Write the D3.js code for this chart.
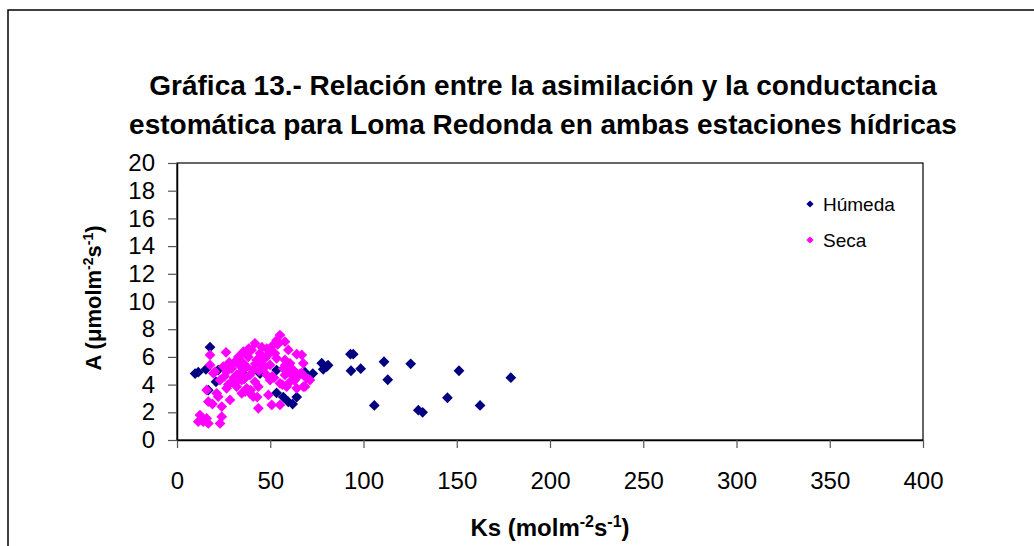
<!DOCTYPE html>
<html>
<head>
<meta charset="utf-8">
<script src="https://cdn.jsdelivr.net/npm/d3@7"></script>
<style>
body { margin:0; background:#fff; }
svg { font-family: "Liberation Sans", Arial, sans-serif; }
</style>
</head>
<body>
<svg id="chart"></svg>
<script>
// Humeda series (Ks, A)
var humedaKs = [9.7, 11.4, 15.5, 17.7, 16.8, 20.9, 22.1, 34.7, 44.5, 53.4, 53.4, 57.0, 59.7, 62.0, 64.2, 68.6, 72.8, 77.6, 80.3, 78.4, 81.0, 93.0, 94.5, 93.3, 98.5, 111, 113, 125.3, 105.8, 129.4, 131.7, 145, 151.2, 162.5, 179];
var humedaA  = [4.8, 4.9, 5.1, 6.7, 3.6, 4.2, 5.05, 4.9, 4.8, 5.05, 3.4, 3.1, 2.75, 2.6, 3.1, 4.9, 4.8, 5.55, 5.3, 5.1, 5.4, 6.2, 6.2, 5.0, 5.15, 5.65, 4.35, 5.5, 2.5, 2.15, 2.0, 3.05, 5.0, 2.5, 4.5];

// Seca series (Ks, A)
var secaKs = [55.2, 53.4, 57.9, 41.8, 51.6, 48.1, 26.3, 35.6, 40.0, 44.5, 49.9, 59.7, 64.2, 17.7, 32.9, 38.2, 42.7, 47.2, 53.4, 57.9,
              60.6, 67.7, 34.7, 49.9, 24.8, 29.3, 37.4, 40.9, 46.3, 57.0, 62.4, 19.5, 26.6, 32.0, 39.1, 48.1, 57.9, 65.0, 69.5, 23.1,
              29.3, 34.7, 41.8, 49.9, 55.2, 60.6, 67.7, 26.6, 32.0, 37.4, 43.6, 58.8, 64.2, 15.9, 22.1, 28.4, 34.7, 40.9, 49.0, 50.8,
              55.2, 43.6, 16.8, 24.0, 12.3, 24.0, 11.4, 14.1, 16.8, 15.9, 23.1, 17.7, 20.4, 31.1, 52.5, 66.9, 21.3, 39.1, 45.0, 66.9,
              66.0, 71.3, 68.6, 30.5, 36.0, 44.0, 52.0, 27.5, 33.5, 38.5, 46.0, 54.0, 43.0, 48.5, 56.5, 63.0, 19.0, 28.0, 36.5, 60.0,
              25.5, 31.0, 42.0, 47.0, 51.0, 35.0, 39.5, 58.0, 62.0, 45.5];
var secaA  = [7.58, 7.2, 7.1, 6.98, 6.86, 6.6, 6.33, 6.38, 6.5, 6.26, 6.38, 6.5, 6.2, 6.14, 6.0, 6.0, 5.78, 5.9, 5.9, 5.78,
              5.54, 5.54, 5.65, 5.42, 5.3, 5.17, 5.3, 5.05, 5.17, 5.17, 5.05, 4.82, 4.93, 4.7, 4.7, 4.7, 4.7, 4.62, 4.45, 4.33,
              4.2, 4.33, 4.2, 4.33, 4.09, 4.2, 3.85, 3.73, 3.85, 3.73, 3.85, 3.85, 3.73, 3.61, 3.13, 2.89, 3.37, 3.13, 3.25, 2.53,
              2.53, 2.29, 2.77, 2.41, 1.8, 1.68, 1.32, 1.32, 1.2, 1.56, 1.2, 5.42, 4.93, 5.65, 6.26, 4.82, 3.37, 3.37, 5.6, 6.14,
              4.8, 4.33, 3.85, 4.5, 4.4, 5.0, 4.5, 4.0, 5.4, 6.6, 5.4, 6.9, 3.1, 6.1, 4.0, 4.3, 2.6, 5.6, 3.5, 4.9,
              4.6, 4.1, 5.5, 5.3, 4.6, 5.0, 3.6, 5.4, 4.7, 6.7];

var xTicks = [0, 50, 100, 150, 200, 250, 300, 350, 400];
var yTicks = [0, 2, 4, 6, 8, 10, 12, 14, 16, 18, 20];
var titleLines = ["Gráfica 13.- Relación entre la asimilación y la conductancia",
                  "estomática para Loma Redonda en ambas estaciones hídricas"];
var seriesNames = ["Húmeda", "Seca"];
var seriesColors = ["#000080", "#FF00FF"];

var screen = {width:1034, height:546};
var plot = {left:177, right:923, top:163, bottom:440};

var svg = d3.select("#chart")
    .attr("width", screen.width)
    .attr("height", screen.height);

// outer chart border (cut off at right and bottom)
svg.append("rect")
    .attr("x", 8).attr("y", 10)
    .attr("width", 1040).attr("height", 560)
    .attr("fill", "#fff")
    .attr("stroke", "#000")
    .attr("stroke-width", 1.5);

var xScale = d3.scaleLinear().domain([0,400]).range([plot.left, plot.right]);
var yScale = d3.scaleLinear().domain([0,20]).range([plot.bottom, plot.top]);

// plot area frame
svg.append("rect")
    .attr("x", plot.left).attr("y", plot.top)
    .attr("width", plot.right-plot.left).attr("height", plot.bottom-plot.top)
    .attr("fill", "none")
    .attr("stroke", "#000")
    .attr("stroke-width", 1.2);

//axes
var xAxis = d3.axisBottom(xScale).tickValues(xTicks).tickSize(8).tickPadding(24).tickSizeOuter(0);
var yAxis = d3.axisLeft(yScale).tickValues(yTicks).tickSize(9).tickPadding(13).tickSizeOuter(0);

var gx = svg.append("g")
    .attr("transform", "translate(0,"+plot.bottom+")")
    .call(xAxis);
var gy = svg.append("g")
    .attr("transform", "translate("+plot.left+",0)")
    .call(yAxis);

[gx, gy].forEach(function(g){
    g.select(".domain").attr("stroke", "#000").attr("stroke-width", 1.5);
    g.selectAll(".tick line").attr("stroke", "#555").attr("stroke-width", 1.2);
    g.selectAll(".tick text")
        .attr("fill", "#000")
        .style("font-size", "24px")
        .style("font-family", "Liberation Sans, Arial, sans-serif");
});

// diamonds
var diamond = d3.symbol().type(d3.symbolSquare).size(58);

var drawSeries = function(xs, ys, color)
{
    svg.append("g")
        .selectAll("path")
        .data(xs)
        .enter()
        .append("path")
        .attr("d", diamond)
        .attr("transform", function(d,i){
            return "translate("+xScale(d)+","+yScale(ys[i])+") rotate(45)";
        })
        .attr("fill", color);
};
drawSeries(humedaKs, humedaA, seriesColors[0]);
drawSeries(secaKs, secaA, seriesColors[1]);

// title
var title = svg.append("g");
titleLines.forEach(function(t, i){
    title.append("text")
        .text(t)
        .attr("x", 543)
        .attr("y", 95 + i*39)
        .attr("text-anchor", "middle")
        .style("font-size", "28px")
        .style("font-weight", "bold");
});

// x-axis label
var xl = svg.append("text")
    .attr("x", 550)
    .attr("y", 536)
    .attr("text-anchor", "middle")
    .style("font-size", "24px")
    .style("font-weight", "bold");
xl.append("tspan").text("Ks (molm");
xl.append("tspan").text("-2").attr("dy", -9).style("font-size", "16px");
xl.append("tspan").text("s").attr("dy", 9);
xl.append("tspan").text("-1").attr("dy", -9).style("font-size", "16px");
xl.append("tspan").text(")").attr("dy", 9);

// y-axis label
var yl = svg.append("text")
    .attr("transform", "translate(101,298) rotate(-90)")
    .attr("text-anchor", "middle")
    .style("font-size", "22px")
    .style("font-weight", "bold");
yl.append("tspan").text("A (μmolm");
yl.append("tspan").text("-2").attr("dy", -8).style("font-size", "14px");
yl.append("tspan").text("s").attr("dy", 8);
yl.append("tspan").text("-1").attr("dy", -8).style("font-size", "14px");
yl.append("tspan").text(")").attr("dy", 8);

// legend
var legendDiamond = d3.symbol().type(d3.symbolSquare).size(26);
var legend = svg.append("g")
    .selectAll("g")
    .data(seriesNames)
    .enter()
    .append("g")
    .attr("transform", function(d,i){ return "translate(810,"+(204+i*36)+")"; });
legend.append("path")
    .attr("d", legendDiamond)
    .attr("transform", "rotate(45)")
    .attr("fill", function(d,i){ return seriesColors[i]; });
legend.append("text")
    .text(function(d){ return d; })
    .attr("x", 13)
    .attr("y", 7)
    .style("font-size", "19px");
</script>
</body>
</html>
